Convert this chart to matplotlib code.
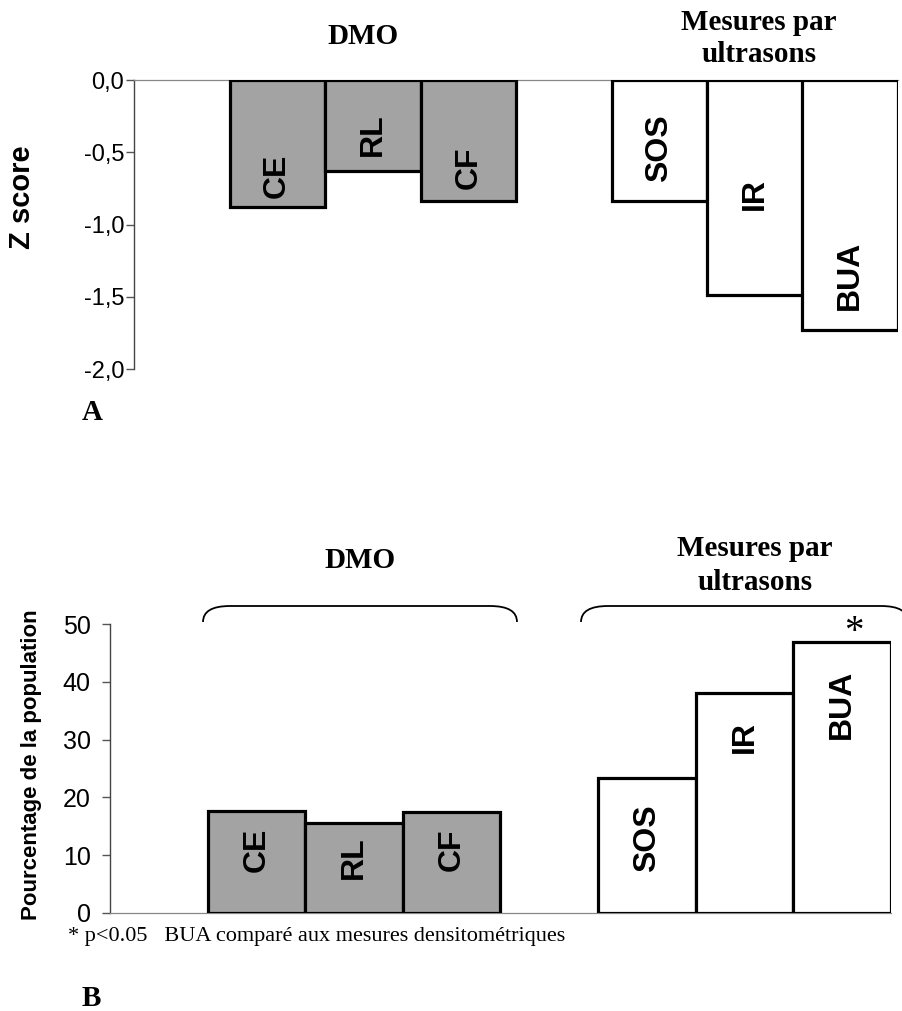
import matplotlib
matplotlib.use("Agg")
import matplotlib.pyplot as plt
from matplotlib.path import Path
from matplotlib.patches import PathPatch

# ---------------- data ----------------
categories = ["CE", "RL", "CF", "SOS", "IR", "BUA"]
groups = ["DMO", "DMO", "DMO", "US", "US", "US"]
zscore = [-0.88, -0.63, -0.84, -0.84, -1.49, -1.73]
pct_population = [17.6, 15.5, 17.5, 23.4, 38.0, 46.9]

z_ticks = [0.0, -0.5, -1.0, -1.5, -2.0]
z_tick_labels = ["0,0", "-0,5", "-1,0", "-1,5", "-2,0"]
pct_ticks = [0, 10, 20, 30, 40, 50]
pct_tick_labels = ["0", "10", "20", "30", "40", "50"]

# label anchor heights (data units) for the in-bar category names
z_label_y = [-0.66, -0.38, -0.61, -0.47, -0.79, -1.35]
pct_label_y = [10.9, 9.5, 10.9, 13.0, 30.5, 36.1]

# ---------------- style ----------------
W, H = 903, 1011
DPI = 100
SANS = ["Liberation Sans", "DejaVu Sans"]
SERIF = ["Liberation Serif", "DejaVu Serif"]
GRAY = "#a3a3a3"
positions = [0, 1, 2, 4, 5, 6]
colors = [GRAY if g == "DMO" else "white" for g in groups]

fig = plt.figure(figsize=(W / DPI, H / DPI), dpi=DPI)
fig.patch.set_facecolor("white")


def ax_rect(left, top, right, bottom):
    return [left / W, 1 - bottom / H, (right - left) / W, (bottom - top) / H]


def fx(px):
    return px / W


def fy(py):
    return 1 - py / H


def title(x, y, s):
    fig.text(fx(x), fy(y), s, ha="center", va="center",
             family=SERIF, fontweight="bold", fontsize=21)


# ---------------- panel A ----------------
axA = fig.add_axes(ax_rect(134, 80, 898, 369))
axA.bar(positions, zscore, width=1.0, color=colors, edgecolor="black",
        linewidth=2.3, zorder=3)
axA.set_xlim(-1.5, 6.5)
axA.set_ylim(-2.0, 0.0)
axA.set_yticks(z_ticks)
axA.set_yticklabels(z_tick_labels, family=SANS, fontsize=17)
axA.tick_params(axis="y", direction="out", length=6, width=1, pad=1,
                color="#555555")
axA.set_xticks([])
for s in ["right", "bottom"]:
    axA.spines[s].set_visible(False)
axA.spines["left"].set_color("#444444")
axA.spines["left"].set_linewidth(1.0)
axA.spines["top"].set_color("#888888")
axA.spines["top"].set_linewidth(0.9)
for p, name, y in zip(positions, categories, z_label_y):
    axA.text(p, y, name, rotation=90, ha="center", va="center",
             family=SANS, fontweight="bold", fontsize=23, zorder=4)

fig.text(fx(22.5), fy(197), "Z score", rotation=90, ha="center", va="center",
         family=SANS, fontweight="bold", fontsize=21)
title(363, 37, "DMO")
title(759, 22, "Mesures par")
title(759, 55, "ultrasons")
fig.text(fx(92), fy(413), "A", ha="center", va="center",
         family=SERIF, fontweight="bold", fontsize=21)

# ---------------- panel B ----------------
axB = fig.add_axes(ax_rect(110, 624, 891, 913))
axB.bar(positions, pct_population, width=1.0, color=colors, edgecolor="black",
        linewidth=2.3, zorder=3)
axB.set_xlim(-1.5, 6.5)
axB.set_ylim(0, 50)
axB.set_yticks(pct_ticks)
axB.set_yticklabels(pct_tick_labels, family=SANS, fontsize=18)
axB.tick_params(axis="y", direction="out", length=6, width=1, pad=8,
                color="#555555")
axB.set_xticks([])
for s in ["right", "top"]:
    axB.spines[s].set_visible(False)
axB.spines["left"].set_color("#444444")
axB.spines["left"].set_linewidth(1.0)
axB.spines["bottom"].set_color("#888888")
axB.spines["bottom"].set_linewidth(0.9)
for p, name, y in zip(positions, categories, pct_label_y):
    axB.text(p, y, name, rotation=90, ha="center", va="center",
             family=SANS, fontweight="bold", fontsize=23, zorder=4)
axB.text(positions[-1] + 0.12, 46.8, "*", ha="center", va="baseline",
         family=SERIF, fontsize=28, clip_on=False)

fig.text(fx(32), fy(765), "Pourcentage de la population", rotation=90,
         ha="center", va="center", family=SANS, fontweight="bold", fontsize=16)
title(360, 561, "DMO")
title(755, 548, "Mesures par")
title(755, 583, "ultrasons")
fig.text(fx(68), fy(937), "* p<0.05   BUA comparé aux mesures densitométriques",
         ha="left", va="center", family=SERIF, fontsize=16)
fig.text(fx(91), fy(998), "B", ha="center", va="center",
         family=SERIF, fontweight="bold", fontsize=21)


# ---------------- braces ----------------
def brace(x0, x1, ytop, yend, r=27):
    verts = [(fx(x0), fy(yend)), (fx(x0), fy(ytop)), (fx(x0 + r), fy(ytop)),
             (fx(x1 - r), fy(ytop)), (fx(x1), fy(ytop)), (fx(x1), fy(yend))]
    codes = [Path.MOVETO, Path.CURVE3, Path.CURVE3,
             Path.LINETO, Path.CURVE3, Path.CURVE3]
    patch = PathPatch(Path(verts, codes), facecolor="none", edgecolor="black",
                      linewidth=1.3, transform=fig.transFigure, clip_on=False)
    fig.add_artist(patch)


brace(203, 517, 606, 622)
brace(581, 908, 606, 622)

fig.savefig("out.png", dpi=DPI, facecolor="white")
